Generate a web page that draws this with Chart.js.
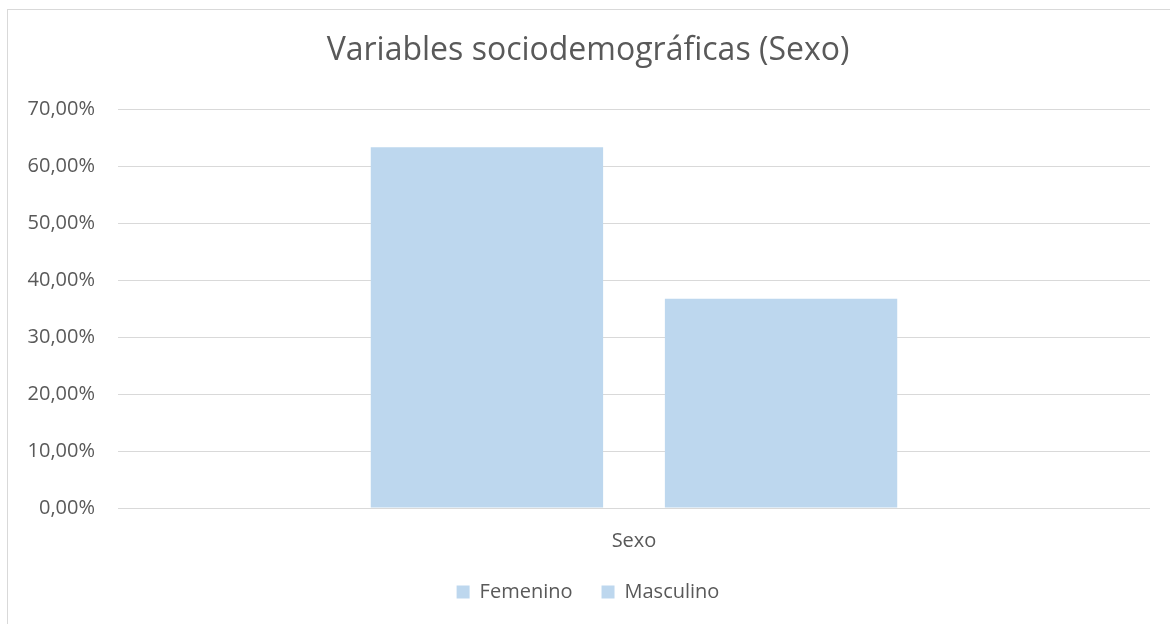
<!DOCTYPE html>
<html>
<head>
<meta charset="utf-8">
<script src="https://cdn.jsdelivr.net/npm/chart.js@4"></script>
<style>
    body { margin: 0; overflow: hidden; background: #fff; }
    #wrap { position: relative; width: 1170px; height: 624px; overflow: hidden; }
    #frame { position: absolute; left: 7px; top: 9px; width: 1200px; height: 700px; border: 1px solid #d9d9d9; }
    #box { position: absolute; left: 0; top: 0; width: 1170px; height: 624px; }
</style>
</head>
<body>
<div id="wrap">
    <div id="frame"></div>
    <div id="box"><canvas id="myChart"></canvas></div>
</div>
<script>
const categories = ["Sexo"];
const seriesNames = ["Femenino", "Masculino"];
const femenino = [63.3];
const masculino = [36.7];
const barColor = "#BDD7EE";
const textColor = "#595959";

function formatPct(v) {
    return v.toFixed(2).replace('.', ',') + '%';
}

new Chart(document.getElementById("myChart"), {
    type: 'bar',
    data: {
        labels: categories,
        datasets: [
            { label: seriesNames[0], data: femenino, backgroundColor: barColor },
            { label: seriesNames[1], data: masculino, backgroundColor: barColor }
        ]
    },
    options: {
        responsive: true,
        maintainAspectRatio: false,
        animation: false,
        categoryPercentage: 0.57,
        barPercentage: 0.79,
        layout: { padding: { left: 26, right: 20, top: 0, bottom: 12 } },
        scales: {
            x: {
                grid: { display: false, drawTicks: false },
                border: { display: false },
                ticks: { color: textColor, padding: 21, font: { family: "Open Sans", size: 20 } },
                afterFit: scale => { scale.height = 45; }
            },
            y: {
                min: 0,
                max: 70,
                ticks: {
                    stepSize: 10,
                    color: textColor,
                    padding: 23,
                    font: { family: "Open Sans", size: 20 },
                    callback: v => formatPct(v)
                },
                grid: { color: "#d9d9d9", lineWidth: 1, drawTicks: false },
                border: { display: false },
                afterFit: scale => { scale.width = 92; }
            }
        },
        plugins: {
            title: {
                display: true,
                text: 'Variables sociodemográficas (Sexo)',
                color: textColor,
                font: { family: "Open Sans", size: 32, weight: 'normal', lineHeight: 1.2 },
                padding: { top: 32, bottom: 38.6 }
            },
            legend: {
                position: 'bottom',
                labels: {
                    color: textColor,
                    boxWidth: 13,
                    boxHeight: 13,
                    padding: 29,
                    font: { family: "Open Sans", size: 20 }
                }
            },
            tooltip: { enabled: false }
        }
    }
});
</script>
</body>
</html>
